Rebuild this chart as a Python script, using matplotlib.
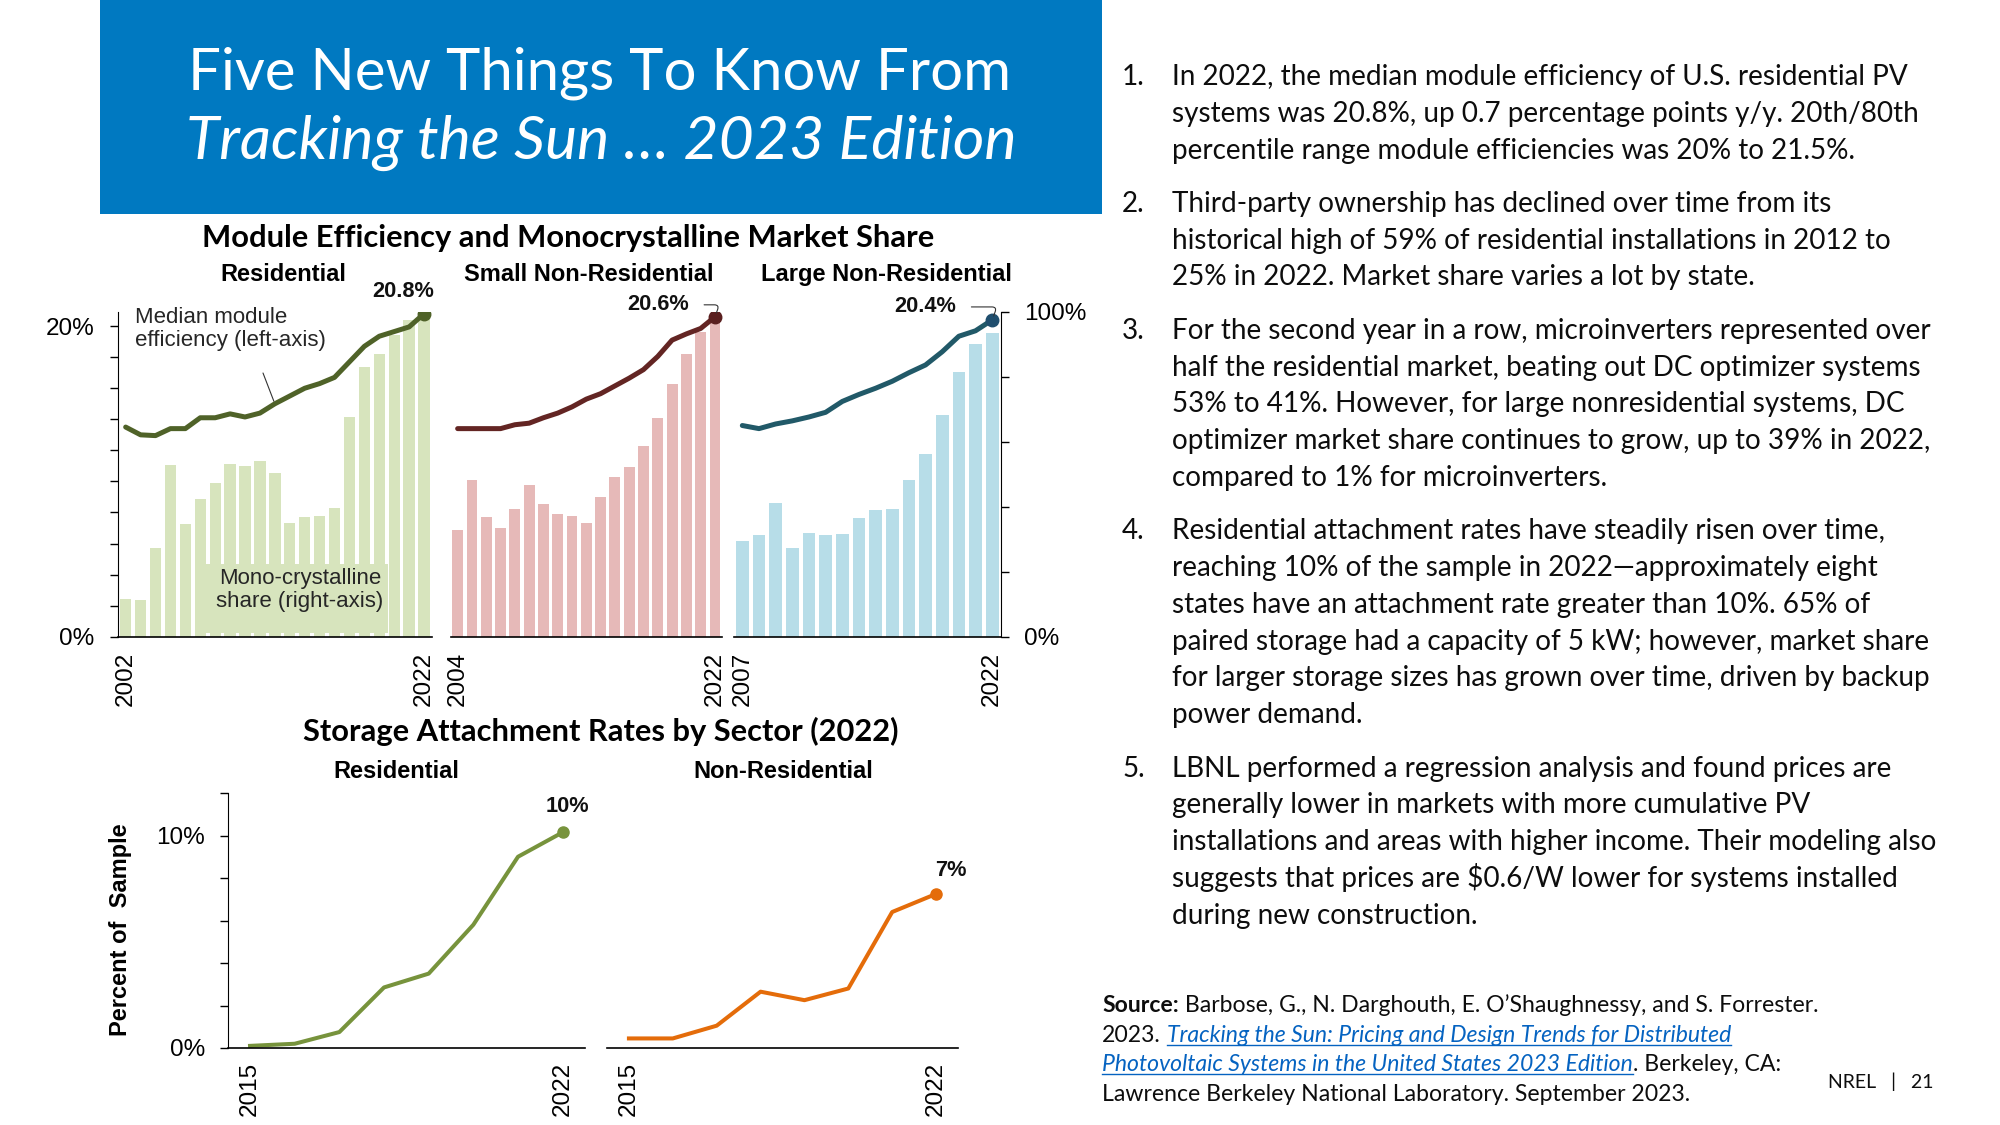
import numpy as np
import matplotlib
matplotlib.use("Agg")
import matplotlib.pyplot as plt
from matplotlib.patches import Rectangle
from matplotlib.lines import Line2D

# values
res_years = list(range(2002, 2023))
res_mono = [11.6, 11.3, 27.4, 52.8, 34.7, 42.4, 47.4, 53.2, 52.5, 54.1, 50.5,
            35.0, 36.8, 37.1, 39.7, 67.7, 83.1, 87.0, 92.8, 97.5, 97.9]
res_eff = [13.5, 13.0, 12.95, 13.4, 13.4, 14.1, 14.1, 14.35, 14.15, 14.4, 15.0,
           15.5, 16.0, 16.3, 16.7, 17.7, 18.7, 19.35, 19.65, 19.95, 20.8]

small_years = list(range(2004, 2023))
small_mono = [32.8, 48.2, 36.8, 33.4, 39.3, 46.7, 40.8, 37.7, 37.1, 35.0,
              43.1, 49.1, 52.2, 58.7, 67.3, 77.7, 87.0, 93.8, 97.4]
small_eff = [13.4, 13.4, 13.4, 13.4, 13.65, 13.75, 14.1, 14.4, 14.8, 15.3,
             15.65, 16.15, 16.65, 17.2, 18.05, 19.1, 19.5, 19.85, 20.6]

large_years = list(range(2007, 2023))
large_mono = [29.4, 31.3, 41.1, 27.3, 31.9, 31.3, 31.6, 36.5, 39.1, 39.3,
              48.2, 56.2, 68.2, 81.4, 90.1, 93.4]
large_eff = [13.6, 13.4, 13.7, 13.9, 14.15, 14.45, 15.15, 15.6, 16.0, 16.45,
             17.0, 17.5, 18.35, 19.35, 19.7, 20.4]

storage_years = list(range(2015, 2023))
storage_res = [0.1, 0.2, 0.75, 2.85, 3.5, 5.8, 9.0, 10.15]
storage_nonres = [0.45, 0.45, 1.05, 2.65, 2.25, 2.8, 6.4, 7.25]

title_lines = ["Five New Things To Know From", "Tracking the Sun … 2023 Edition"]

bullets = [
    ["In 2022, the median module efficiency of U.S. residential PV",
     "systems was 20.8%, up 0.7 percentage points y/y. 20th/80th",
     "percentile range module efficiencies was 20% to 21.5%."],
    ["Third-party ownership has declined over time from its",
     "historical high of 59% of residential installations in 2012 to",
     "25% in 2022. Market share varies a lot by state."],
    ["For the second year in a row, microinverters represented over",
     "half the residential market, beating out DC optimizer systems",
     "53% to 41%. However, for large nonresidential systems, DC",
     "optimizer market share continues to grow, up to 39% in 2022,",
     "compared to 1% for microinverters."],
    ["Residential attachment rates have steadily risen over time,",
     "reaching 10% of the sample in 2022\u2014approximately eight",
     "states have an attachment rate greater than 10%. 65% of",
     "paired storage had a capacity of 5 kW; however, market share",
     "for larger storage sizes has grown over time, driven by backup",
     "power demand."],
    ["LBNL performed a regression analysis and found prices are",
     "generally lower in markets with more cumulative PV",
     "installations and areas with higher income. Their modeling also",
     "suggests that prices are $0.6/W lower for systems installed",
     "during new construction."],
]

source_lines = [
    [("b", "Source:"), ("n", " Barbose, G., N. Darghouth, E. O\u2019Shaughnessy, and S. Forrester.")],
    [("n", "2023."), ("gap", ""), ("l", "Tracking the Sun: Pricing and Design Trends for Distributed")],
    [("l", "Photovoltaic Systems in the United States 2023 Edition"), ("n", ". Berkeley, CA:")],
    [("n", "Lawrence Berkeley National Laboratory. September 2023.")],
]

ARIAL = "Liberation Sans"
CAL = "Lato"
BLUE = "#0079c1"
LINK = "#0563c1"
W, H = 2000, 1125
TICK = 17.5

fig = plt.figure(figsize=(20, 11.25), dpi=100)
fig.patch.set_facecolor("white")
renderer = fig.canvas.get_renderer()


def box(x0, y0, x1, y1):
    return [x0 / W, 1 - y1 / H, (x1 - x0) / W, (y1 - y0) / H]


def fx(x):
    return x / W


def fy(y):
    return 1 - y / H


def fit(text, width, **kw):
    # font size that makes text this many pixels wide
    t = fig.text(0, 0, text, fontsize=20, **kw)
    w = t.get_window_extent(renderer).width
    t.remove()
    return 20 * width / w


# ---- title block
fig.add_artist(Rectangle((fx(99.5), fy(214)), (1102 - 99.5) / W, 214 / H,
                         transform=fig.transFigure, facecolor=BLUE, edgecolor="none", zorder=0))
tsize = fit(title_lines[0], 823, family=CAL)
isize = fit(title_lines[1], 830, family=CAL, style="italic")
fig.text(fx(600), fy(89), title_lines[0], family=CAL, fontsize=tsize,
         color="white", ha="center", va="baseline")
fig.text(fx(601), fy(159), title_lines[1], family=CAL, style="italic",
         fontsize=isize, color="white", ha="center", va="baseline")

# ---- module efficiency panels
panels = [
    dict(years=res_years, mono=res_mono, eff=res_eff, bar="#d7e4bd", line="#4f6228",
         dot="#4f6228", name="Residential", label="20.8%", off=(-21, 22), leader=False,
         x0=118.2, x1=431.5, tx=283),
    dict(years=small_years, mono=small_mono, eff=small_eff, bar="#e6b9b8", line="#632523",
         dot="#5a1f1f", name="Small Non-Residential", label="20.6%", off=(-57, 12), leader=True,
         x0=450.5, x1=722.1, tx=589),
    dict(years=large_years, mono=large_mono, eff=large_eff, bar="#b7dde8", line="#215968",
         dot="#1f4e6e", name="Large Non-Residential", label="20.4%", off=(-67, 13), leader=True,
         x0=734, x1=1000.5, tx=886),
]
TOP, BOT = 311.7, 636.7

for i, p in enumerate(panels):
    ax = fig.add_axes(box(p["x0"], TOP, p["x1"], BOT))
    ax.bar(p["years"], p["mono"], width=0.76, color=p["bar"], zorder=2)
    ax.set_xlim(p["years"][0] - 0.5, p["years"][-1] + 0.5)
    ax.set_ylim(0, 100)
    ax2 = ax.twinx()
    ax2.plot(p["years"], p["eff"], color=p["line"], lw=3.6, solid_joinstyle="round",
             solid_capstyle="round")
    ax2.plot(p["years"][-1], p["eff"][-1], "o", ms=9, color=p["dot"])
    ax2.set_ylim(0, 20.93)
    for a in (ax, ax2):
        for s in a.spines.values():
            s.set_visible(False)
        a.set_yticks([])
    ax.spines["bottom"].set_visible(True)
    ax.spines["bottom"].set_linewidth(1.2)
    ax.set_xticks([p["years"][0], p["years"][-1]])
    ax.set_xticklabels([str(p["years"][0]), str(p["years"][-1])], rotation=90,
                       fontsize=TICK, family=ARIAL)
    ax.tick_params(axis="x", length=0, pad=11)

    if i == 0:
        ax2.spines["left"].set_visible(True)
        ax2.yaxis.tick_left()
        ax2.set_yticks(np.arange(0, 21, 2))
        ax2.set_yticklabels(["0%"] + [""] * 9 + ["20%"], fontsize=TICK, family=ARIAL)
        ax2.tick_params(axis="y", length=6, width=1, pad=11)
    if i == 2:
        ax.spines["right"].set_visible(True)
        ax.yaxis.tick_right()
        ax.set_yticks(np.arange(0, 101, 20))
        ax.set_yticklabels(["0%", "", "", "", "", "100%"], fontsize=TICK, family=ARIAL)
        ax.tick_params(axis="y", length=6, width=1, pad=11)

    arrow = None
    if p["leader"]:
        arrow = dict(arrowstyle="-", color="#333333", lw=0.8, relpos=(1, 0.5),
                     connectionstyle="angle,angleA=0,angleB=70,rad=5", shrinkA=9, shrinkB=3)
    ax2.annotate(p["label"], xy=(p["years"][-1], p["eff"][-1]), xytext=p["off"],
                 textcoords="offset pixels", ha="center", va="center", fontsize=15.7,
                 fontweight="bold", family=ARIAL, color="#111111", arrowprops=arrow)
    fig.text(fx(p["tx"]), fy(281), p["name"], ha="center", va="baseline", fontsize=17,
             fontweight="bold", family=ARIAL)

    if i == 0:
        ax.add_patch(Rectangle((fx(196.7), fy(633.3)), (388.3 - 196.7) / W, (633.3 - 564) / H,
                               transform=fig.transFigure, facecolor=p["bar"], edgecolor="none",
                               zorder=3, clip_on=False))
        fig.text(fx(300), fy(590), "Mono-crystalline\nshare (right-axis)", ha="center",
                 va="center", fontsize=16, family=ARIAL, color="#262626", linespacing=1.15)
        fig.text(fx(135), fy(329), "Median module\nefficiency (left-axis)", ha="left",
                 va="center", fontsize=16, family=ARIAL, color="#262626", linespacing=1.15)
        ax2.annotate("", xy=(2012, 15.0), xytext=(fx(263), fy(373)),
                     textcoords="figure fraction",
                     arrowprops=dict(arrowstyle="-", color="#333333", lw=0.8,
                                     shrinkA=0, shrinkB=2))

hsize = fit("Module Efficiency and Monocrystalline Market Share", 732, family=CAL,
            fontweight="bold")
fig.text(fx(568), fy(247), "Module Efficiency and Monocrystalline Market Share",
         ha="center", va="baseline", fontsize=hsize, fontweight="bold", family=CAL)
fig.text(fx(601), fy(741), "Storage Attachment Rates by Sector (2022)",
         ha="center", va="baseline", fontsize=hsize, fontweight="bold", family=CAL)

# ---- storage attachment panels
storage = [
    dict(vals=storage_res, color="#77933c", name="Residential", label="10%", off=(5, 26),
         x0=227.7, x1=585, tx=396, yaxis=True),
    dict(vals=storage_nonres, color="#e46c0a", name="Non-Residential", label="7%", off=(15, 23),
         x0=607, x1=958, tx=783, yaxis=False),
]
for s in storage:
    ax = fig.add_axes(box(s["x0"], 793, s["x1"], 1048))
    ax.plot(storage_years, s["vals"], color=s["color"], lw=2.9, solid_joinstyle="round")
    ax.plot(storage_years[-1], s["vals"][-1], "o", ms=8, color=s["color"])
    ax.set_xlim(2014.5, 2022.5)
    ax.set_ylim(0, 12)
    for sp in ax.spines.values():
        sp.set_visible(False)
    ax.spines["bottom"].set_visible(True)
    ax.spines["bottom"].set_linewidth(1.2)
    ax.set_xticks([storage_years[0], storage_years[-1]])
    ax.set_xticklabels([str(storage_years[0]), str(storage_years[-1])], rotation=90,
                       fontsize=TICK, family=ARIAL)
    ax.tick_params(axis="x", length=0, pad=10)
    if s["yaxis"]:
        ax.spines["left"].set_visible(True)
        ax.set_yticks(np.arange(0, 13, 2))
        ax.set_yticklabels(["0%", "", "", "", "", "10%", ""], fontsize=TICK, family=ARIAL)
        ax.tick_params(axis="y", length=5.5, width=1, pad=11)
    else:
        ax.set_yticks([])
    ax.annotate(s["label"], xy=(storage_years[-1], s["vals"][-1]), xytext=s["off"],
                textcoords="offset pixels", ha="center", va="center", fontsize=15.7,
                fontweight="bold", family=ARIAL, color="#111111")
    fig.text(fx(s["tx"]), fy(778), s["name"], ha="center", va="baseline", fontsize=17,
             fontweight="bold", family=ARIAL)

fig.text(fx(120), fy(930), "Percent of  Sample", rotation=90, ha="center", va="center",
         fontsize=17, fontweight="bold", family=ARIAL)

# ---- numbered notes on the right
bsize = fit(bullets[0][1], 748, family=CAL)
y = 85
for n, para in enumerate(bullets):
    fig.text(fx(1122), fy(y), f"{n + 1}.", fontsize=bsize, family=CAL, va="baseline",
             color="#0d0d0d")
    for line in para:
        fig.text(fx(1172), fy(y), line, fontsize=bsize, family=CAL, va="baseline",
                 color="#0d0d0d", parse_math=False)
        y += 36.8
    y += 16.5

# ---- source with bold / link runs
ssize = fit("Source: Barbose, G., N. Darghouth, E. O\u2019Shaughnessy, and S. Forrester.", 714,
            family=CAL)
a = fig.text(0, 0, "n n", fontsize=ssize, family=CAL)
b = fig.text(0, 0, "nn", fontsize=ssize, family=CAL)
space = a.get_window_extent(renderer).width - b.get_window_extent(renderer).width
a.remove()
b.remove()

style = {"n": {}, "b": {"fontweight": "bold"}, "l": {"fontstyle": "italic", "color": LINK}}
y = 1012
for parts in source_lines:
    x = 1102
    for kind, text in parts:
        if kind == "gap":
            x += space
            continue
        kw = dict(color="#0d0d0d")
        kw.update(style[kind])
        t = fig.text(fx(x), fy(y), text, fontsize=ssize, family=CAL, va="baseline", **kw)
        bb = t.get_window_extent(renderer)
        if kind == "l":
            fig.add_artist(Line2D([bb.x0 / W, bb.x1 / W], [(H - y - 3) / H] * 2,
                                  transform=fig.transFigure, color=LINK, lw=1))
        x = bb.x1
    y += 29.6

fig.text(fx(1828), fy(1088), "NREL   |   21", fontsize=ssize * 0.85, family=CAL,
         va="baseline", color="#0d0d0d")

fig.savefig("out.png", dpi=100)
